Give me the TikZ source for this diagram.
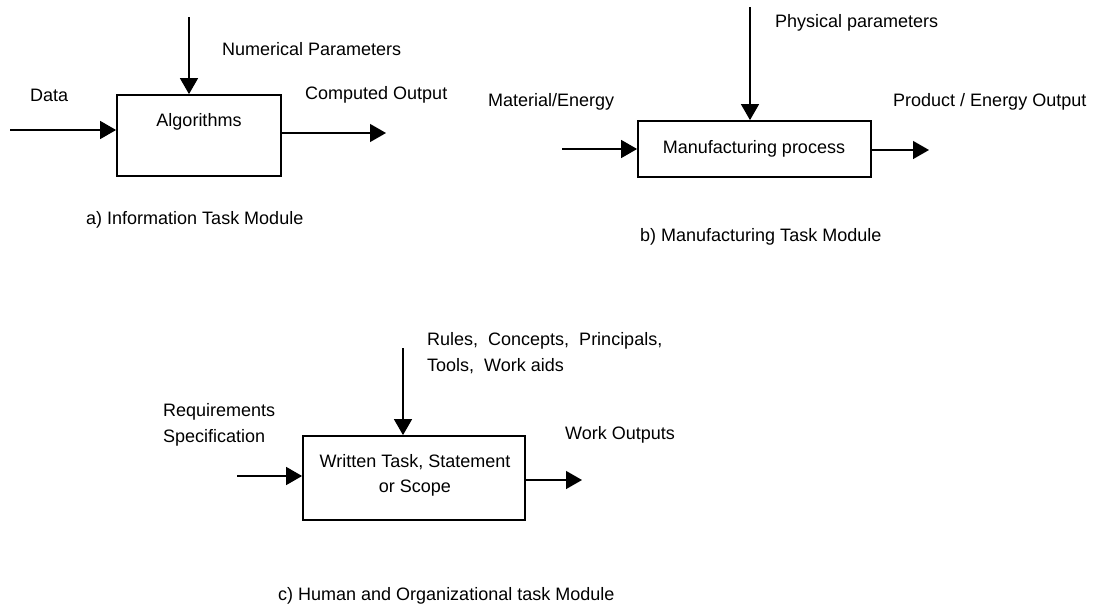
\documentclass[tikz,border=0pt]{standalone}
\usepackage{fontspec}
\setmainfont{Liberation Sans}
\usetikzlibrary{arrows.meta}
\begin{document}
\begin{tikzpicture}[x=1pt,y=-1pt,
  lbl/.style={inner sep=0pt,anchor=west,align=left,font=\fontsize{18}{26}\selectfont},
  inbox/.style={inner sep=0pt,align=center,font=\fontsize{18}{25}\selectfont},
  module/.style={draw,line width=1.8pt,minimum width=#1,inner sep=0pt},
  flow/.style={line width=1.4pt,-{Triangle[length=16pt,width=18pt]}}]
\useasboundingbox (0,0) rectangle (1093,613);

% a) information module
\node[module=164pt,minimum height=81pt] (boxa) at (199,135.5) {};
\node[inbox] (texta) at (199,122) {Algorithms};
\coordinate (ain) at (10,130);
\coordinate (atop) at (189,17);
\coordinate (aout) at (386,133);
\draw[flow] (ain) -- (ain -| boxa.west);
\draw[flow] (atop) -- (atop |- boxa.north);
\draw[flow] (aout -| boxa.east) -- (aout);
\node[lbl] (npar) at (222,49) {Numerical Parameters};
\node[lbl] (data) at (30,95) {Data};
\node[lbl] (cout) at (305,95) {Computed Output};
\node[lbl] (capa) at (86,220) {a) Information Task Module};

% b) manufacturing module
\node[module=233pt,minimum height=56pt] (boxb) at (754.5,149) {};
\node[inbox] (textb) at (754,149) {Manufacturing process};
\coordinate (bin) at (562,149);
\coordinate (btop) at (750,7);
\coordinate (bout) at (929,150);
\draw[flow] (bin) -- (bin -| boxb.west);
\draw[flow] (btop) -- (btop |- boxb.north);
\draw[flow] (bout -| boxb.east) -- (bout);
\node[lbl] (ppar) at (775,23) {Physical parameters};
\node[lbl] (mat) at (488,102) {Material/Energy};
\node[lbl] (pout) at (893,102) {Product / Energy Output};
\node[lbl] (capb) at (640,237) {b) Manufacturing Task Module};

% c) human and organizational module
\node[module=222pt,minimum height=84pt] (boxc) at (414,478) {};
\node[inbox] (textc) at (415,475) {Written Task, Statement\\or Scope};
\coordinate (cin) at (237,476);
\coordinate (ctop) at (403,348);
\coordinate (cout) at (582,480);
\draw[flow] (cin) -- (cin -| boxc.west);
\draw[flow] (ctop) -- (ctop |- boxc.north);
\draw[flow] (cout -| boxc.east) -- (cout);
\node[lbl] (rules) at (427,353) {Rules,\ \ Concepts,\ \ Principals,\\Tools,\ \ Work aids};
\node[lbl] (req) at (163,425) {Requirements\\Specification};
\node[lbl] (wout) at (565,435) {Work Outputs};
\node[lbl] (capc) at (278,596) {c) Human and Organizational task Module};
\end{tikzpicture}
\end{document}
